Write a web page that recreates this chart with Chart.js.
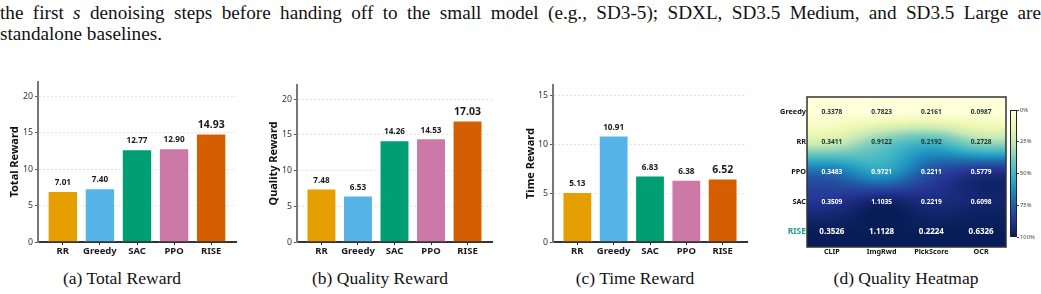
<!DOCTYPE html>
<html>
<head>
<meta charset="utf-8">
<script src="https://cdn.jsdelivr.net/npm/chart.js@4.4.1/dist/chart.umd.min.js"></script>
<style>
  body { margin: 0; width: 1041px; height: 294px; background: #fff; position: relative; overflow: hidden; }
  .line { position: absolute; left: 0; width: 1041px; font: 19.2px 'Liberation Serif', 'Times New Roman', serif; line-height: 19.2px; color: #111; }
  .line.just { text-align: justify; text-align-last: justify; }
  .sub { position: absolute; top: 269px; font: 17.5px 'Liberation Serif', 'Times New Roman', serif; line-height: 18px; color: #111;
         transform: translateX(-50%); white-space: nowrap; }
  canvas { position: absolute; }
</style>
</head>
<body>
<div class="line just" style="top:3px">the first <i>s</i> denoising steps before handing off to the small model (e.g., SD3-5); SDXL, SD3.5 Medium, and SD3.5 Large are</div>
<div class="line" style="top:24px">standalone baselines.</div>

<div style="position:absolute;left:0;top:80px;width:240px;height:180px"><canvas id="totalChart"></canvas></div>
<div style="position:absolute;left:258px;top:80px;width:238px;height:180px"><canvas id="qualityChart"></canvas></div>
<div style="position:absolute;left:515px;top:80px;width:236px;height:180px"><canvas id="timeChart"></canvas></div>
<div style="position:absolute;left:770px;top:90px;width:250px;height:172px"><canvas id="heatChart"></canvas></div>
<div style="position:absolute;left:1005px;top:100px;width:36px;height:145px"><canvas id="cbarChart"></canvas></div>

<div class="sub" style="left:122px">(a) Total Reward</div>
<div class="sub" style="left:380px">(b) Quality Reward</div>
<div class="sub" style="left:635px">(c) Time Reward</div>
<div class="sub" style="left:906px">(d) Quality Heatmap</div>

<script>
const methods = ['RR', 'Greedy', 'SAC', 'PPO', 'RISE'];
const totalReward = [7.01, 7.40, 12.77, 12.90, 14.93];
const qualityReward = [7.48, 6.53, 14.26, 14.53, 17.03];
const timeReward = [5.13, 10.91, 6.83, 6.38, 6.52];
const totalTicks = [0, 5, 10, 15, 20];
const qualityTicks = [0, 5, 10, 15, 20];
const timeTicks = [0, 5, 10, 15];
const barColors = ['#E69F00', '#56B4E9', '#009E73', '#CC79A7', '#D55E00'];

const heatRows = ['Greedy', 'RR', 'PPO', 'SAC', 'RISE'];
const heatCols = ['CLIP', 'ImgRwd', 'PickScore', 'OCR'];
const greedyScores = [0.3378, 0.7823, 0.2161, 0.0987];
const rrScores = [0.3411, 0.9122, 0.2192, 0.2728];
const ppoScores = [0.3483, 0.9721, 0.2211, 0.5779];
const sacScores = [0.3509, 1.1035, 0.2219, 0.6098];
const riseScores = [0.3526, 1.1128, 0.2224, 0.6326];
const colorbarTicks = [0, 25, 50, 75, 100];

const FONT = "'Noto Sans', 'DejaVu Sans', sans-serif";
const ylgnbu = ['#ffffd9', '#edf8b1', '#c7e9b4', '#7fcdbb', '#41b6c4', '#1d91c0', '#225ea8', '#253494', '#081d58'];

function hexToRgb(h) {
    return [parseInt(h.slice(1, 3), 16), parseInt(h.slice(3, 5), 16), parseInt(h.slice(5, 7), 16)];
}
const cmapRgb = ylgnbu.map(hexToRgb);

function cmap(t) {
    t = Math.min(1, Math.max(0, t));
    const p = t * (cmapRgb.length - 1);
    const i = Math.min(cmapRgb.length - 2, Math.floor(p));
    const f = p - i;
    const a = cmapRgb[i], b = cmapRgb[i + 1];
    return [a[0] + (b[0] - a[0]) * f, a[1] + (b[1] - a[1]) * f, a[2] + (b[2] - a[2]) * f];
}

// drop the label-overflow padding chart.js adds, so chart areas land where we want them
function noPad(s) {
    s.paddingTop = 0; s.paddingBottom = 0; s.paddingLeft = 0; s.paddingRight = 0;
}

// value labels on top of each bar
const barLabels = {
    id: 'barLabels',
    afterDatasetsDraw(chart) {
        const ctx = chart.ctx;
        const meta = chart.getDatasetMeta(0);
        const vals = chart.data.datasets[0].data;
        ctx.save();
        ctx.textAlign = 'center';
        ctx.textBaseline = 'bottom';
        ctx.fillStyle = '#1a1a1a';
        meta.data.forEach((bar, i) => {
            const big = i === vals.length - 1;
            ctx.font = 'bold ' + (big ? 10.5 : 8.2) + 'px ' + FONT;
            ctx.fillText(vals[i].y.toFixed(2), bar.x, bar.y - (big ? 3 : 4));
        });
        ctx.restore();
    }
};

function makeBarChart(id, values, ticks, yMax, title, opts) {
    new Chart(document.getElementById(id), {
        type: 'bar',
        data: {
            datasets: [{
                data: values.map((v, i) => ({ x: i, y: v })),
                backgroundColor: barColors,
                borderColor: 'rgba(255,255,255,0.85)',
                borderWidth: 1,
                barPercentage: 0.82,
                categoryPercentage: 1
            }]
        },
        options: {
            responsive: true,
            maintainAspectRatio: false,
            animation: false,
            layout: { padding: { top: opts.top, right: 4, left: 0, bottom: 0 } },
            plugins: { legend: { display: false }, tooltip: { enabled: false } },
            scales: {
                x: {
                    type: 'linear',
                    offset: false,
                    min: -0.67,
                    max: methods.length - 1 + 0.67,
                    afterBuildTicks: s => { s.ticks = methods.map((m, i) => ({ value: i })); },
                    afterFit: s => { s.height = 18; noPad(s); },
                    ticks: {
                        callback: v => methods[Math.round(v)],
                        font: { family: FONT, size: 9.5, weight: 'bold' },
                        color: '#1a1a1a',
                        padding: 1,
                        maxRotation: 0,
                        autoSkip: false
                    },
                    grid: { offset: false, drawOnChartArea: false, tickLength: 3, tickColor: '#333', tickWidth: 1 },
                    border: { color: '#333', width: 2 }
                },
                y: {
                    min: 0,
                    max: yMax,
                    afterBuildTicks: s => { s.ticks = ticks.map(v => ({ value: v })); },
                    afterFit: s => { s.width = opts.yWidth; noPad(s); },
                    ticks: {
                        font: { family: FONT, size: 8.8 },
                        color: '#333',
                        padding: 2
                    },
                    grid: { color: '#e4e4e4', lineWidth: 1, tickLength: 3, tickColor: '#555', tickBorderDash: [] },
                    border: { color: '#777', width: 2, dash: [2, 2] },
                    title: {
                        display: true,
                        text: title,
                        font: { family: FONT, size: 11, weight: 'bold' },
                        color: '#111',
                        padding: { top: opts.titlePad, bottom: 0 }
                    }
                }
            }
        },
        plugins: [barLabels]
    });
}

makeBarChart('totalChart', totalReward, totalTicks, 22, 'Total Reward', { top: 2, yWidth: 38, titlePad: 8 });
makeBarChart('qualityChart', qualityReward, qualityTicks, 22, 'Quality Reward', { top: 5, yWidth: 39, titlePad: 9 });
makeBarChart('timeChart', timeReward, timeTicks, 16.1, 'Time Reward', { top: 5, yWidth: 38, titlePad: 9 });

// heatmap: per-column min-max normalisation, drawn with bicubic smoothing
const heatValues = [greedyScores, rrScores, ppoScores, sacScores, riseScores];
const colMin = heatCols.map((c, j) => Math.min(...heatValues.map(r => r[j])));
const colMax = heatCols.map((c, j) => Math.max(...heatValues.map(r => r[j])));
const heatNorm = heatValues.map(r => r.map((v, j) => (v - colMin[j]) / (colMax[j] - colMin[j])));

const heatCells = [];
heatValues.forEach((row, r) => row.forEach((v, c) => heatCells.push({ x: c, y: r, v: v, n: heatNorm[r][c] })));

function keys(t) {
    const a = -0.5;
    t = Math.abs(t);
    if (t <= 1) return (a + 2) * t * t * t - (a + 3) * t * t + 1;
    if (t < 2) return a * t * t * t - 5 * a * t * t + 8 * a * t - 4 * a;
    return 0;
}

function sampleBicubic(u, v) {
    const nr = heatNorm.length, nc = heatNorm[0].length;
    const x0 = Math.floor(u), y0 = Math.floor(v);
    let sum = 0;
    for (let m = -1; m <= 2; m++) {
        const wy = keys(v - (y0 + m));
        const ri = Math.min(nr - 1, Math.max(0, y0 + m));
        for (let n = -1; n <= 2; n++) {
            const wx = keys(u - (x0 + n));
            const ci = Math.min(nc - 1, Math.max(0, x0 + n));
            sum += wx * wy * heatNorm[ri][ci];
        }
    }
    return sum;
}

const heatPlugin = {
    id: 'heatPlugin',
    beforeDatasetsDraw(chart) {
        const { left, top, width, height } = chart.chartArea;
        const xs = chart.scales.x, ys = chart.scales.y;
        const w = Math.round(width), h = Math.round(height);
        const off = document.createElement('canvas');
        off.width = w; off.height = h;
        const octx = off.getContext('2d');
        const img = octx.createImageData(w, h);
        for (let j = 0; j < h; j++) {
            const v = ys.getValueForPixel(top + j + 0.5);
            for (let i = 0; i < w; i++) {
                const u = xs.getValueForPixel(left + i + 0.5);
                const c = cmap(sampleBicubic(u, v));
                const k = (j * w + i) * 4;
                img.data[k] = c[0]; img.data[k + 1] = c[1]; img.data[k + 2] = c[2]; img.data[k + 3] = 255;
            }
        }
        octx.putImageData(img, 0, 0);
        chart.ctx.drawImage(off, left, top, width, height);
    },
    afterDatasetsDraw(chart) {
        const ctx = chart.ctx;
        const xs = chart.scales.x, ys = chart.scales.y;
        const { left, top, width, height } = chart.chartArea;
        ctx.save();
        ctx.textAlign = 'center';
        ctx.textBaseline = 'middle';
        heatCells.forEach(cell => {
            const big = heatRows[cell.y] === 'RISE';
            ctx.font = 'bold ' + (big ? 8 : 6.6) + 'px ' + FONT;
            ctx.fillStyle = cell.n > 0.5 ? '#ffffff' : '#1c3530';
            ctx.fillText(cell.v.toFixed(4), xs.getPixelForValue(cell.x), ys.getPixelForValue(cell.y));
        });
        ctx.strokeStyle = '#333';
        ctx.lineWidth = 1.5;
        ctx.strokeRect(left, top, width, height);
        ctx.restore();
    }
};

function isRise(c) {
    return !!(c.tick && heatRows[Math.round(c.tick.value)] === 'RISE');
}

new Chart(document.getElementById('heatChart'), {
    type: 'scatter',
    data: { datasets: [{ data: heatCells, pointRadius: 0, pointHoverRadius: 0 }] },
    options: {
        responsive: true,
        maintainAspectRatio: false,
        animation: false,
        layout: { padding: { top: 7, right: 14, left: 0, bottom: 0 } },
        plugins: { legend: { display: false }, tooltip: { enabled: false } },
        scales: {
            x: {
                type: 'linear',
                min: -0.5,
                max: heatCols.length - 0.5,
                afterBuildTicks: s => { s.ticks = heatCols.map((c, i) => ({ value: i })); },
                afterFit: s => { s.height = 15; noPad(s); },
                ticks: {
                    callback: v => heatCols[Math.round(v)],
                    font: { family: FONT, size: 7.2, weight: 'bold' },
                    color: '#111',
                    padding: 1,
                    maxRotation: 0,
                    autoSkip: false
                },
                grid: { display: false, drawTicks: false },
                border: { display: false }
            },
            y: {
                type: 'linear',
                reverse: true,
                min: -0.5,
                max: heatRows.length - 0.5,
                afterBuildTicks: s => { s.ticks = heatRows.map((r, i) => ({ value: i })); },
                afterFit: s => { s.width = 37; noPad(s); },
                ticks: {
                    callback: v => heatRows[Math.round(v)],
                    font: c => ({ family: FONT, weight: 'bold', size: isRise(c) ? 8.5 : 7.3 }),
                    color: c => isRise(c) ? '#2a9d8f' : '#111',
                    padding: 1,
                    autoSkip: false
                },
                grid: { display: false, drawTicks: false },
                border: { display: false }
            }
        }
    },
    plugins: [heatPlugin]
});

// colorbar
const cbarPlugin = {
    id: 'cbarPlugin',
    beforeDatasetsDraw(chart) {
        const ctx = chart.ctx;
        const ys = chart.scales.y;
        const { left, top, width, height } = chart.chartArea;
        const g = ctx.createLinearGradient(0, ys.getPixelForValue(0), 0, ys.getPixelForValue(100));
        ylgnbu.forEach((c, i) => g.addColorStop(i / (ylgnbu.length - 1), c));
        ctx.save();
        ctx.fillStyle = g;
        ctx.fillRect(left, top, width, height);
        ctx.strokeStyle = '#222';
        ctx.lineWidth = 1;
        ctx.strokeRect(left + 0.5, top + 0.5, width - 1, height - 1);
        ctx.restore();
    }
};

new Chart(document.getElementById('cbarChart'), {
    type: 'scatter',
    data: { datasets: [{ data: [], pointRadius: 0 }] },
    options: {
        responsive: true,
        maintainAspectRatio: false,
        animation: false,
        layout: { padding: { top: 10, right: 0, left: 5, bottom: 8 } },
        plugins: { legend: { display: false }, tooltip: { enabled: false } },
        scales: {
            x: { display: false, min: 0, max: 1 },
            y: {
                position: 'right',
                reverse: true,
                min: 0,
                max: 100,
                afterBuildTicks: s => { s.ticks = colorbarTicks.map(v => ({ value: v })); },
                afterFit: s => { s.width = 24; noPad(s); },
                ticks: {
                    callback: v => v + '%',
                    font: { family: FONT, size: 5.8 },
                    color: '#444',
                    padding: 1
                },
                grid: { drawOnChartArea: false, tickLength: 2, tickColor: '#444' },
                border: { display: false }
            }
        }
    },
    plugins: [cbarPlugin]
});
</script>
</body>
</html>
